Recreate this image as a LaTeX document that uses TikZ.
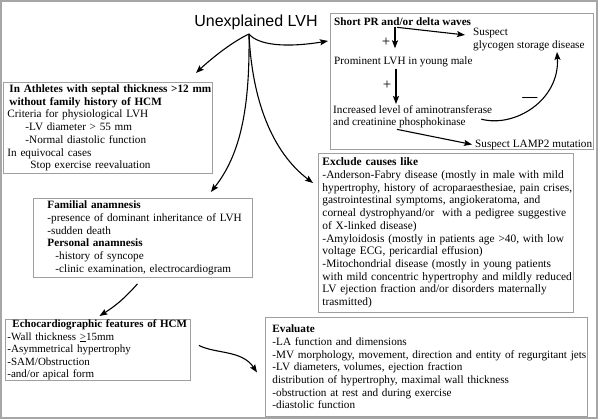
\documentclass[tikz,border=0pt]{standalone}
\usepackage{fontspec}
\setmainfont{Liberation Serif}
\newfontfamily\headfont{Liberation Sans}
\usetikzlibrary{arrows.meta,positioning}

\begin{document}
\begin{tikzpicture}[x=1pt,y=-1pt,
  txt/.style={font=\fontsize{11.2}{12.7}\selectfont, inner sep=1pt},
  box/.style={txt, draw=gray!75, line width=0.9pt, anchor=north west, align=left, inner xsep=1pt, inner ysep=0pt},
  sign/.style={font=\fontsize{15}{15}\selectfont, inner sep=0pt},
  flow/.style={-{Stealth[length=8pt,width=6pt,inset=1.5pt]}, line width=1.1pt},
]
\useasboundingbox (0,0) rectangle (600,420);
\draw[gray!70, line width=1.3pt] (1,1) rectangle (597,418);

% title
\node[font=\headfont\fontsize{16}{18}\selectfont, inner sep=0pt] (title) at (256,22) {Unexplained LVH};
\coordinate (split) at (249,34);

% boxes
\node[box, text width=207pt, minimum width=209pt, minimum height=91pt] (athletes) at (3,82)
  {\leftskip=3pt
   \hspace*{2pt}\textbf{In Athletes with septal thickness >12 mm}\\
   \hspace*{2pt}\textbf{without family history of HCM}\\
   Criteria for physiological LVH\\
   \hspace*{18pt}-LV diameter > 55 mm\\
   \hspace*{18pt}-Normal diastolic function\\
   In equivocal cases\\
   \hspace*{23pt}Stop exercise reevaluation\par};
\node[box, text width=217pt, minimum width=219pt, minimum height=79pt] (familial) at (33,198)
  {\leftskip=13pt
   \textbf{Familial anamnesis}\\
   -presence of dominant inheritance of LVH\\
   -sudden death\\
   \textbf{Personal anamnesis}\\
   \hspace*{8pt}-history of syncope\\
   \hspace*{8pt}-clinic examination, electrocardiogram\par};
\node[box, font=\fontsize{11}{12.6}\selectfont, text width=183pt, minimum width=185pt, minimum height=61pt] (echo) at (5,319)
  {\leftskip=1pt
   \hspace*{5pt}\textbf{Echocardiographic features of HCM}\\
   -Wall thickness \underline{>}15mm\\
   -Asymmetrical hypertrophy\\
   -SAM/Obstruction\\
   -and/or apical form\par};
\node[box, font=\fontsize{11.4}{12.7}\selectfont, text width=253pt, minimum width=255pt, minimum height=159pt] (exclude) at (318,153)
  {\leftskip=3pt
   \textbf{Exclude causes like}\\
   -Anderson-Fabry disease (mostly in male with mild\\
   hypertrophy, history of acroparaesthesiae, pain crises,\\
   gastrointestinal symptoms, angiokeratoma, and\\
   corneal dystrophyand/or\ \ with a pedigree suggestive\\
   of X-linked disease)\\
   -Amyloidosis (mostly in patients age >40, with low\\
   voltage ECG, pericardial effusion)\\
   -Mitochondrial disease (mostly in young patients\\
   with mild concentric hypertrophy and mildly reduced\\
   LV ejection fraction and/or disorders maternally\\
   trasmitted)\par};
\node[box, text width=320pt, minimum width=322pt, minimum height=99pt] (evaluate) at (265,317)
  {\leftskip=6pt
   \textbf{Evaluate}\\
   -LA function and dimensions\\
   -MV morphology, movement, direction and entity of regurgitant jets\\
   -LV diameters, volumes, ejection fraction\\
   distribution of hypertrophy, maximal wall thickness\\
   -obstruction at rest and during exercise\\
   -diastolic function\par};

% short PR panel
\node[draw=gray!75, line width=0.9pt, anchor=north west, minimum width=263pt, minimum height=136pt] (prbox) at (330,13) {};
\node[txt, anchor=base west] (prtitle) at (333,26) {\textbf{Short PR and/or delta waves}};
\node[txt, anchor=north west, align=left] (glycogen) at (472,27) {Suspect\\glycogen storage disease};
\node[txt, anchor=base west] (prominent) at (333,65) {Prominent LVH in young male};
\node[txt, anchor=north west, align=left] (increased) at (332,104) {Increased level of aminotransferase\\and creatinine phosphokinase};
\node[txt, anchor=base west] (lamp) at (474,147) {Suspect LAMP2 mutation};
\node[sign] (plusA) at (386,42) {+};
\node[sign] (plusB) at (387,85) {+};
\node[sign] (minus) at (530,99) {\textbf{—}};

% arrows
\draw[flow] (split) .. controls (232,42) and (212,58) .. ([xshift=-17pt,yshift=9pt]athletes.north east);
\draw[flow] (split) .. controls (258,45) and (285,48) .. ([xshift=-2pt,yshift=-28pt]prbox.north west);
\draw[flow] (split) .. controls (250,110) and (240,155) .. ([xshift=-42pt,yshift=6pt]familial.north east);
\draw[flow] (split) .. controls (252,100) and (272,152) .. ([xshift=-5pt,yshift=-30pt]exclude.north west);
\draw[flow] ([xshift=-5.5pt,yshift=-6pt]familial.south) to[bend left=8] ([xshift=1.5pt,yshift=3pt]echo.north);
\draw[flow] ([xshift=8pt,yshift=4.5pt]echo.east) .. controls (216,354) and (242,350) .. ([xshift=-8pt,yshift=-5.5pt]evaluate.west);

\draw[flow] (prtitle.south -| 395,0) -- ++(0,21);
\draw[flow] (prtitle.south -| 397,0) -- ([xshift=-7pt,yshift=4.5pt]glycogen.west);
\draw[flow] (prominent.south -| 396,0) -- (increased.north -| 396,0);
\draw[flow] ([xshift=-12pt,yshift=-2.5pt]increased.east) .. controls (515,128) and (560,100) .. (glycogen.south -| 557,0);
\draw[flow] (increased.south -| 397,0) -- ([xshift=-2pt]lamp.west);

\end{tikzpicture}
\end{document}
